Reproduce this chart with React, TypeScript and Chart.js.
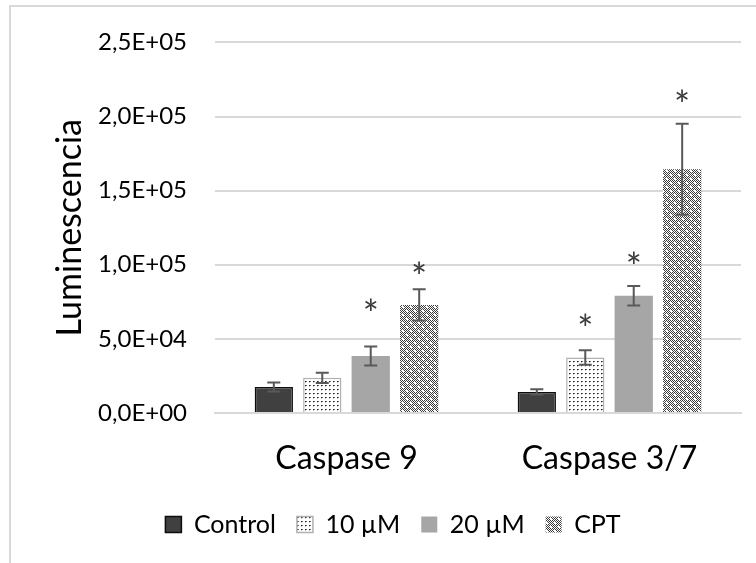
import React, { useEffect, useRef } from 'react';
import { Chart, registerables } from 'chart.js';

Chart.register(...registerables);

// Categories and series
const categories = ['Caspase 9', 'Caspase 3/7'];
const seriesNames = ['Control', '10 µM', '20 µM', 'CPT'];

// Mean luminescence per category
const controlValues = [17500, 14200];
const dose10Values = [23700, 37400];
const dose20Values = [38400, 79100];
const cptValues = [72900, 164400];

// Error bar half-lengths
const controlErrors = [3000, 1800];
const dose10Errors = [3500, 4900];
const dose20Errors = [6400, 6500];
const cptErrors = [10500, 30700];

// Significance marks (*)
const controlStars = [false, false];
const dose10Stars = [false, true];
const dose20Stars = [true, true];
const cptStars = [true, true];

// Y axis
const yMin = 0;
const yMax = 250000;
const yStep = 50000;

const FONT = 'Lato, "Open Sans", sans-serif';

function sciLabel(v: number): string {
  if (v === 0) return '0,0E+00';
  const exp = Math.floor(Math.log10(Math.abs(v)) + 1e-9);
  const mant = v / Math.pow(10, exp);
  const sign = exp < 0 ? '-' : '+';
  return `${mant.toFixed(1).replace('.', ',')}E${sign}${String(Math.abs(exp)).padStart(2, '0')}`;
}

// Fine dotted fill
function dotsPattern(ctx: CanvasRenderingContext2D): CanvasPattern | string {
  const c = document.createElement('canvas');
  c.width = 4;
  c.height = 4;
  const g = c.getContext('2d')!;
  g.fillStyle = '#ffffff';
  g.fillRect(0, 0, 4, 4);
  g.fillStyle = '#1f1f1f';
  g.fillRect(1, 1, 1, 1);
  g.fillStyle = '#6e6e6e';
  g.fillRect(2, 1, 1, 1);
  g.fillStyle = '#c4c4c4';
  g.fillRect(1, 2, 1, 1);
  return ctx.createPattern(c, 'repeat') || '#d0d0d0';
}

// Dense checker fill with small light openings
function checkerPattern(ctx: CanvasRenderingContext2D): CanvasPattern | string {
  const c = document.createElement('canvas');
  c.width = 8;
  c.height = 8;
  const g = c.getContext('2d')!;
  g.fillStyle = '#ffffff';
  g.fillRect(0, 0, 8, 8);
  g.fillStyle = '#3a3a3a';
  for (let y = 0; y < 8; y++) {
    for (let x = 0; x < 8; x++) {
      if ((x + y) % 2 === 0) g.fillRect(x, y, 1, 1);
    }
  }
  g.fillStyle = '#ffffff';
  g.fillRect(2, 2, 2, 2);
  g.fillRect(6, 6, 2, 2);
  return ctx.createPattern(c, 'repeat') || '#606060';
}

export default function App() {
  const canvasRef = useRef<HTMLCanvasElement | null>(null);

  useEffect(() => {
    document.body.style.margin = '0';
    const canvas = canvasRef.current;
    if (!canvas) return;
    const ctx = canvas.getContext('2d')!;

    const values = [controlValues, dose10Values, dose20Values, cptValues];
    const errors = [controlErrors, dose10Errors, dose20Errors, cptErrors];
    const stars = [controlStars, dose10Stars, dose20Stars, cptStars];
    // Pixel gap between each asterisk and the top of its error bar
    const starGap = [
      [0, 0],
      [0, 29],
      [40, 26],
      [20, 26],
    ];
    const fills: (string | CanvasPattern)[] = [
      '#404040',
      dotsPattern(ctx),
      '#a6a6a6',
      checkerPattern(ctx),
    ];
    const borders = ['#0d0d0d', '#b0b0b0', '#a6a6a6', '#a6a6a6'];
    const borderWidths = [1.5, 1.5, 0, 0];

    const frame = {
      id: 'frame',
      beforeDraw(chart: Chart) {
        const c = chart.ctx;
        c.save();
        c.fillStyle = '#ffffff';
        c.fillRect(0, 0, chart.width, chart.height);
        c.strokeStyle = '#d9d9d9';
        c.lineWidth = 2;
        c.beginPath();
        c.moveTo(10, chart.height + 5);
        c.lineTo(10, 6);
        c.lineTo(chart.width + 5, 6);
        c.stroke();
        c.restore();
      },
    };

    const errorBars = {
      id: 'errorBars',
      afterDatasetsDraw(chart: Chart) {
        const c = chart.ctx;
        const yScale = chart.scales.y;
        c.save();
        chart.data.datasets.forEach((_ds, i) => {
          const meta = chart.getDatasetMeta(i);
          meta.data.forEach((el: any, j: number) => {
            const v = values[i][j];
            const e = errors[i][j];
            const x = el.x;
            const yTop = yScale.getPixelForValue(v + e);
            const yBot = yScale.getPixelForValue(v - e);
            c.strokeStyle = '#595959';
            c.lineWidth = 2;
            c.beginPath();
            c.moveTo(x, yTop);
            c.lineTo(x, yBot);
            c.moveTo(x - 6.5, yTop);
            c.lineTo(x + 6.5, yTop);
            c.moveTo(x - 6.5, yBot);
            c.lineTo(x + 6.5, yBot);
            c.stroke();
            if (stars[i][j]) {
              c.fillStyle = '#3a3a3a';
              c.font = `38px ${FONT}`;
              c.textAlign = 'center';
              c.textBaseline = 'middle';
              c.fillText('*', x, yTop - starGap[i][j] + 9);
            }
          });
        });
        c.restore();
      },
    };

    const chart = new Chart(canvas, {
      type: 'bar',
      data: {
        labels: categories,
        datasets: seriesNames.map((name, i) => ({
          label: name,
          data: values[i],
          backgroundColor: fills[i] as any,
          borderColor: borders[i],
          borderWidth: borderWidths[i],
          categoryPercentage: 0.737,
          barPercentage: 0.79,
        })),
      },
      options: {
        responsive: false,
        animation: false,
        layout: { padding: { left: 45, right: 15, top: 37, bottom: 16 } },
        plugins: {
          tooltip: { enabled: false },
          legend: {
            position: 'bottom',
            labels: {
              boxWidth: 16,
              boxHeight: 16,
              padding: 21,
              color: '#000000',
              font: { family: FONT, size: 25 },
            },
          },
        },
        scales: {
          x: {
            grid: { display: false, drawTicks: false },
            border: { display: true, color: '#d9d9d9', width: 2 },
            ticks: { color: '#000000', font: { family: FONT, size: 32 }, padding: 26 },
            afterFit: (scale: any) => {
              scale.height = 78;
            },
          },
          y: {
            min: yMin,
            max: yMax,
            ticks: {
              stepSize: yStep,
              padding: 28,
              color: '#000000',
              font: { family: FONT, size: 24 },
              callback: (v: any) => sciLabel(Number(v)),
            },
            grid: { color: '#d9d9d9', lineWidth: 2, drawTicks: false },
            border: { display: false },
            title: {
              display: true,
              text: 'Luminescencia',
              color: '#000000',
              font: { family: FONT, size: 34 },
              padding: { top: 5, bottom: 0 },
            },
            afterFit: (scale: any) => {
              scale.width = 170;
            },
          },
        },
      },
      plugins: [frame, errorBars],
    });

    return () => chart.destroy();
  }, []);

  return (
    <div style={{ width: 756, height: 563 }}>
      <canvas ref={canvasRef} width={756} height={563} style={{ display: 'block' }} />
    </div>
  );
}
